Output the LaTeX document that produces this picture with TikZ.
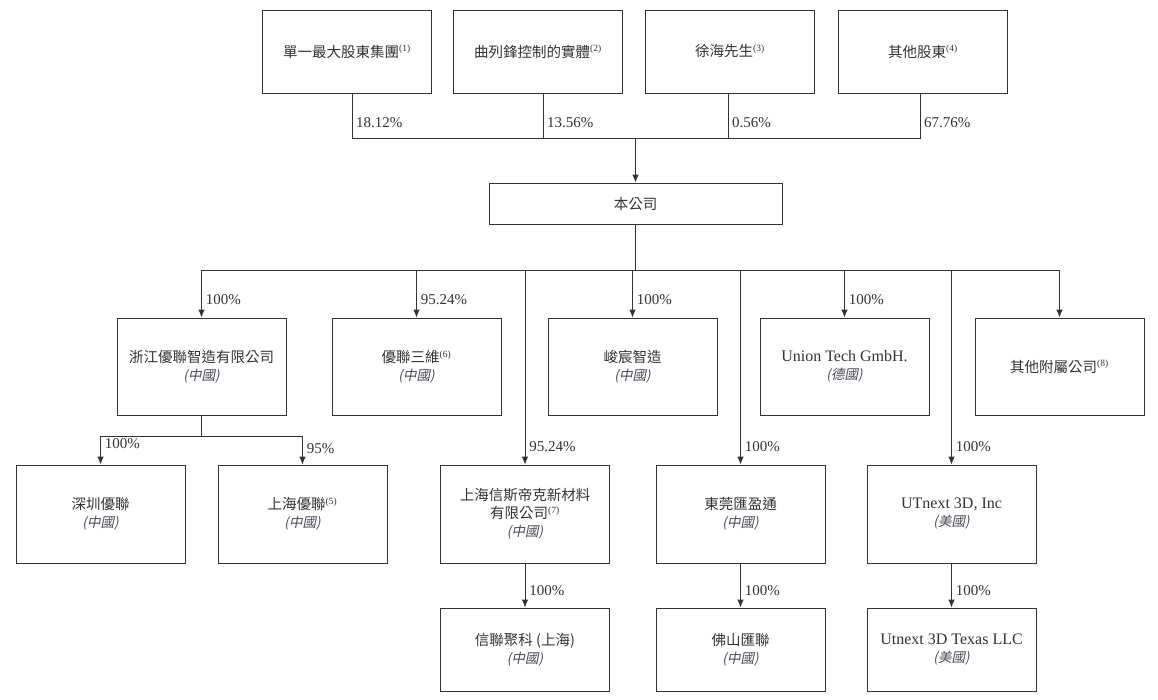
\documentclass[tikz,border=0pt]{standalone}
\usepackage{fontspec}
\setmainfont{Liberation Serif}
\newfontfamily\cjk{Noto Sans CJK TC}
\newfontfamily\cjkit[FakeSlant=0.2]{Noto Sans CJK TC}
\usetikzlibrary{arrows.meta}
\definecolor{ink}{HTML}{333333}
\definecolor{sub}{HTML}{4A4A55}
\newcommand{\nt}[1]{\textsuperscript{\rmfamily\fontsize{9.5}{9.5}\selectfont(#1)}}
\newcommand{\cn}{{\color{sub}\cjkit\fontsize{13.5}{15}\selectfont(中國)}}
\newcommand{\de}{{\color{sub}\cjkit\fontsize{13.5}{15}\selectfont(德國)}}
\newcommand{\us}{{\color{sub}\cjkit\fontsize{13.5}{15}\selectfont(美國)}}
\newcommand{\lat}{\rmfamily\fontsize{16}{18}\selectfont}
\begin{document}
\begin{tikzpicture}[x=1pt,y=-1pt,
  box/.style={draw=ink,line width=0.9pt,minimum width=169pt,align=center,inner sep=2pt,
    font=\cjk\fontsize{14.5}{18}\selectfont,text=ink},
  topbox/.style={box,minimum height=83pt},
  midbox/.style={box,minimum height=97pt},
  lowbox/.style={box,minimum height=83pt},
  ln/.style={draw=ink,line width=0.9pt},
  arr/.style={ln,-{Latex[length=8pt,width=6.5pt]}},
  pct/.style={font=\fontsize{15}{15}\selectfont,text=ink,inner sep=4pt,right}]
\useasboundingbox[fill=white] (0,0) rectangle (1158,699);
% top row
\node[topbox] (s1) at (347,51.5) {單一最大股東集團\nt{1}};
\node[topbox] (s2) at (538,51.5) {曲列鋒控制的實體\nt{2}};
\node[topbox] (s3) at (730,51.5) {徐海先生\nt{3}};
\node[topbox] (s4) at (923,51.5) {其他股東\nt{4}};
\node[box,minimum width=293pt,minimum height=41pt] (co) at (635.5,203.5) {本公司};
% second row
\node[midbox] (A) at (201.5,366.5) {浙江優聯智造有限公司\\\cn};
\node[midbox] (B) at (416.5,366.5) {優聯三維\nt{6}\\\cn};
\node[midbox] (C) at (632.5,366.5) {峻宸智造\\\cn};
\node[midbox] (D) at (844.5,366.5) {{\lat Union Tech GmbH.}\\\de};
\node[midbox] (E) at (1059.5,366.5) {其他附屬公司\nt{8}};
% third row
\node[midbox,minimum height=98pt] (F) at (100.5,514) {深圳優聯\\\cn};
\node[midbox,minimum height=98pt] (G) at (302.5,514) {上海優聯\nt{5}\\\cn};
\node[midbox,minimum height=98pt] (H) at (525,514) {上海信斯帝克新材料\\有限公司\nt{7}\\\cn};
\node[midbox,minimum height=98pt] (I) at (740.5,514) {東莞匯盈通\\\cn};
\node[midbox,minimum height=98pt] (J) at (951.5,514) {{\lat UTnext 3D, Inc}\\\us};
% fourth row
\node[lowbox] (K) at (525,649.5) {信聯聚科 (上海)\\\cn};
\node[lowbox] (L) at (740.5,649.5) {佛山匯聯\\\cn};
\node[lowbox] (M) at (951.5,649.5) {{\lat Utnext 3D Texas LLC}\\\us};
% top connectors
\coordinate (b1) at (635.5,138);
\coordinate (d1) at ([xshift=5pt]s1.south);
\coordinate (d2) at ([xshift=5pt]s2.south);
\coordinate (d3) at ([xshift=-2pt]s3.south);
\coordinate (d4) at ([xshift=-3pt]s4.south);
\draw[ln] (d1) -- (d1|-b1) -- (d4|-b1) -- (d4);
\draw[ln] (d2) -- (d2|-b1);
\draw[ln] (d3) -- (d3|-b1);
\path (d1) -- (d1|-b1) node[pct,pos=0.65] {18.12\%};
\path (d2) -- (d2|-b1) node[pct,pos=0.65] {13.56\%};
\path (d3) -- (d3|-b1) node[pct,pos=0.65] {0.56\%};
\path (d4) -- (d4|-b1) node[pct,pos=0.65] {67.76\%};
\draw[arr] (b1) -- (co.north);
% second-level bus
\coordinate (b2) at (635.5,270);
\draw[ln] (co.south) -- (b2);
\draw[ln] (A.north|-b2) -- (E.north|-b2);
\draw[arr] (A.north|-b2) -- (A.north) node[pct,pos=0.62] {100\%};
\draw[arr] (B.north|-b2) -- (B.north) node[pct,pos=0.62] {95.24\%};
\draw[arr] (C.north|-b2) -- (C.north) node[pct,pos=0.62] {100\%};
\draw[arr] (D.north|-b2) -- (D.north) node[pct,pos=0.62] {100\%};
\draw[arr] (E.north|-b2) -- (E.north);
\draw[arr] (H.north|-b2) -- (H.north) node[pct,pos=0.91] {95.24\%};
\draw[arr] (I.north|-b2) -- (I.north) node[pct,pos=0.91] {100\%};
\draw[arr] (J.north|-b2) -- (J.north) node[pct,pos=0.91] {100\%};
% under A
\coordinate (b3) at (201.5,436);
\draw[ln] (A.south) -- (b3);
\draw[ln] (F.north|-b3) -- (G.north|-b3);
\draw[arr] (F.north|-b3) -- (F.north) node[pct,pos=0.28] {100\%};
\draw[arr] (G.north|-b3) -- (G.north) node[pct,pos=0.45] {95\%};
% fourth level
\draw[arr] (H.south) -- (K.north) node[pct,pos=0.62] {100\%};
\draw[arr] (I.south) -- (L.north) node[pct,pos=0.62] {100\%};
\draw[arr] (J.south) -- (M.north) node[pct,pos=0.62] {100\%};
\end{tikzpicture}
\end{document}
